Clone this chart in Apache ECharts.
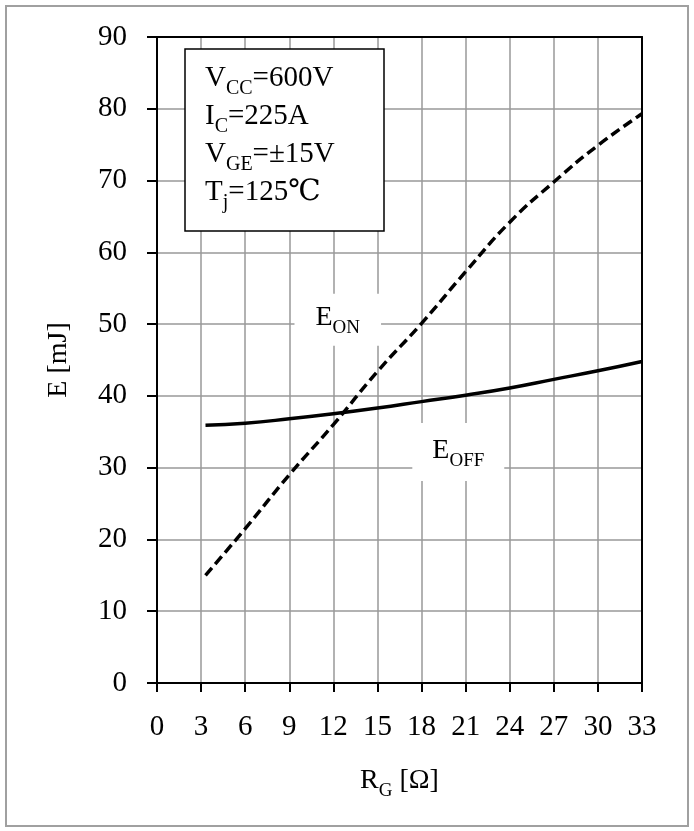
<!DOCTYPE html>
<html>
<head>
<meta charset="utf-8">
<script src="https://cdn.jsdelivr.net/npm/echarts@6/dist/echarts.min.js"></script>
<style>
  html, body { margin: 0; padding: 0; background: #fff; }
  #chart { width: 694px; height: 831px; }
</style>
</head>
<body>
<div id="chart"></div>
<script>
// gate resistance [ohm] and switching energies [mJ]
const rgValues = [3.3, 6, 9, 12, 15, 18, 21, 24, 27, 30, 33]
const eOn = [15.0, 21.5, 29.0, 36.0, 43.4, 50.1, 57.3, 64.2, 69.8, 74.9, 79.3]
const eOff = [35.9, 36.2, 36.8, 37.5, 38.3, 39.2, 40.1, 41.1, 42.3, 43.5, 44.8]

// where the curve names sit [R, E]
const onLabelAt = [12.3, 50.6]
const offLabelAt = [20.5, 32.2]

// test conditions box: [main, subscript, rest]
const conditions = [
  ['V', 'CC', '=600V'],
  ['I', 'C', '=225A'],
  ['V', 'GE', '=±15V'],
  ['T', 'j', '=125℃']
]

const serif = "'Liberation Serif', 'Times New Roman', 'DejaVu Serif', serif"

const rich = {
  m: { fontFamily: serif, fontSize: 28, color: '#000', lineHeight: 30, verticalAlign: 'top' },
  s: { fontFamily: serif, fontSize: 19, color: '#000', lineHeight: 20, verticalAlign: 'top', padding: [15, 0, 0, 0] }
}
const richZr = {
  m: { fontFamily: serif, fontSize: 29, fill: '#000', lineHeight: 30, verticalAlign: 'top' },
  s: { fontFamily: serif, fontSize: 20, fill: '#000', lineHeight: 20, verticalAlign: 'top', padding: [15, 0, 0, 0] }
}

const chart = echarts.init(document.getElementById('chart'))

const blackLine = { show: true, onZero: false, lineStyle: { color: '#000', width: 2 } }
const gridLine = { show: true, showMinLine: false, showMaxLine: false, lineStyle: { color: '#999', width: 1.5 } }

const condTexts = conditions.map((c, i) => ({
  type: 'text',
  left: 205,
  top: 64 + i * 38,
  z: 101,
  style: {
    text: '{m|' + c[0] + '}{s|' + c[1] + '}{m|' + c[2] + '}',
    rich: richZr
  }
}))

const option = {
  animation: false,
  backgroundColor: '#fff',
  grid: { left: 157, right: 52, top: 37, bottom: 148 },
  xAxis: [
    {
      type: 'value',
      min: 0,
      max: 33,
      interval: 3,
      name: '{m|R}{s|G}{m| [Ω]}',
      nameLocation: 'middle',
      nameGap: 84,
      nameTextStyle: { rich },
      axisLine: blackLine,
      axisTick: { show: true, length: 9, lineStyle: { color: '#000', width: 2 } },
      axisLabel: { color: '#000', fontFamily: serif, fontSize: 29, margin: 30 },
      splitLine: gridLine
    },
    {
      type: 'value',
      position: 'top',
      min: 0,
      max: 33,
      axisLine: blackLine,
      axisTick: { show: false },
      axisLabel: { show: false },
      splitLine: { show: false }
    }
  ],
  yAxis: [
    {
      type: 'value',
      min: 0,
      max: 90,
      interval: 10,
      name: '{m|E [mJ]}',
      nameLocation: 'middle',
      nameGap: 82,
      nameTextStyle: { rich },
      axisLine: blackLine,
      axisTick: { show: true, length: 10, lineStyle: { color: '#000', width: 2 } },
      axisLabel: { color: '#000', fontFamily: serif, fontSize: 29, margin: 30 },
      splitLine: gridLine
    },
    {
      type: 'value',
      position: 'right',
      min: 0,
      max: 90,
      axisLine: blackLine,
      axisTick: { show: false },
      axisLabel: { show: false },
      splitLine: { show: false }
    }
  ],
  graphic: [
    {
      type: 'rect',
      shape: { x: 6, y: 6, width: 682, height: 820 },
      style: { fill: 'none', stroke: '#a0a0a0', lineWidth: 2 },
      z: 0
    },
    {
      type: 'rect',
      shape: { x: 185, y: 49, width: 199, height: 182 },
      style: { fill: '#fff', stroke: '#000', lineWidth: 1.5 },
      z: 100
    },
    ...condTexts
  ],
  series: [
    {
      name: 'EON',
      type: 'line',
      data: rgValues.map((r, i) => [r, eOn[i]]),
      smooth: true,
      showSymbol: false,
      lineStyle: { color: '#000', width: 3.5, type: [10, 5] },
      markPoint: {
        symbolSize: 0,
        itemStyle: { color: 'transparent' },
        label: {
          show: true,
          position: 'inside',
          formatter: '{m|E}{s|ON}',
          rich,
          backgroundColor: '#fff',
          padding: [10, 21, 12, 21]
        },
        data: [{ coord: onLabelAt }]
      }
    },
    {
      name: 'EOFF',
      type: 'line',
      data: rgValues.map((r, i) => [r, eOff[i]]),
      smooth: true,
      showSymbol: false,
      lineStyle: { color: '#000', width: 3.5 },
      markPoint: {
        symbolSize: 0,
        itemStyle: { color: 'transparent' },
        label: {
          show: true,
          position: 'inside',
          formatter: '{m|E}{s|OFF}',
          rich,
          backgroundColor: '#fff',
          padding: [14, 20, 14, 20]
        },
        data: [{ coord: offLabelAt }]
      }
    }
  ]
}

chart.setOption(option)
</script>
</body>
</html>
